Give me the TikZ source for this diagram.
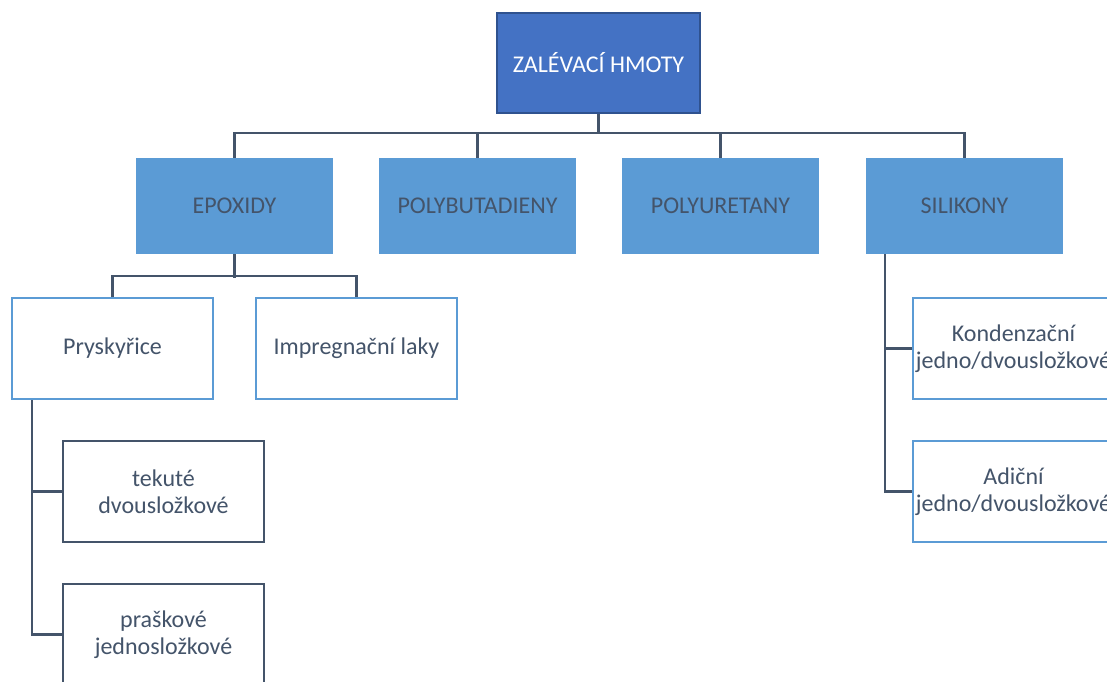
\documentclass[tikz,border=0pt]{standalone}
\usepackage{fontspec}
\setmainfont{Carlito}
\definecolor{topfill}{HTML}{4472C4}
\definecolor{topdraw}{HTML}{2F528F}
\definecolor{midfill}{HTML}{5B9BD5}
\definecolor{txt}{HTML}{44546A}
\begin{document}
\begin{tikzpicture}[x=1pt,y=-1pt,
  base/.style={rectangle, align=center, inner sep=0pt, font=\fontsize{24}{27.5}\selectfont, text=txt},
  topbox/.style={base, fill=topfill, draw=topdraw, line width=2pt, minimum width=203pt, minimum height=100pt, text=white},
  midbox/.style={base, fill=midfill, minimum width=197pt, minimum height=96pt},
  lowbox/.style={base, fill=white, draw=midfill, line width=2pt, minimum width=201pt, minimum height=101pt},
  darkbox/.style={base, fill=white, draw=txt, line width=2pt, minimum width=201pt, minimum height=101pt},
  conn/.style={draw=txt, line width=2.5pt}]
\useasboundingbox (0,0) rectangle (1107,681);
\clip (0,0) rectangle (1107,681);
\node[topbox] (top) at (598.5,63) {ZALÉVACÍ HMOTY};
\node[midbox] (epox) at (234.5,206) {EPOXIDY};
\node[midbox] (poly) at (477.5,206) {POLYBUTADIENY};
\node[midbox] (pu) at (720.5,206) {POLYURETANY};
\node[midbox] (silk) at (964.5,206) {SILIKONY};
\node[lowbox] (prys) at (112.5,348.5) {Pryskyřice};
\node[lowbox] (imp) at (356.5,348.5) {Impregnační laky};
\node[darkbox] (tek) at (163.5,491.5) {tekuté\\dvousložkové};
\node[darkbox] (pras) at (163.5,634.5) {praškové\\jednosložkové};
\node[lowbox] (kond) at (1013.5,348.5) {Kondenzační\\jedno/dvousložkové};
\node[lowbox] (adic) at (1013.5,491.5) {Adiční\\jedno/dvousložkové};
% level 1 connectors
\draw[conn] (top.south) -- ++(0,20);
\draw[conn] (epox.north) -- ++(0,-25) -| (silk.north);
\draw[conn] (poly.north) -- ++(0,-25);
\draw[conn] (pu.north) -- ++(0,-25);
% epoxidy children
\draw[conn] (epox.south) -- ++(0,24);
\draw[conn] (prys.north) -- ++(0,-21) -| (imp.north);
% pryskyrice children
\coordinate (pl) at ([xshift=21pt]prys.south west);
\draw[conn] (pl) |- (tek.west);
\draw[conn] (pl) |- (pras.west);
% silikony children
\coordinate (sl) at ([xshift=19pt]silk.south west);
\draw[conn] (sl) |- (kond.west);
\draw[conn] (sl) |- (adic.west);
\end{tikzpicture}
\end{document}
